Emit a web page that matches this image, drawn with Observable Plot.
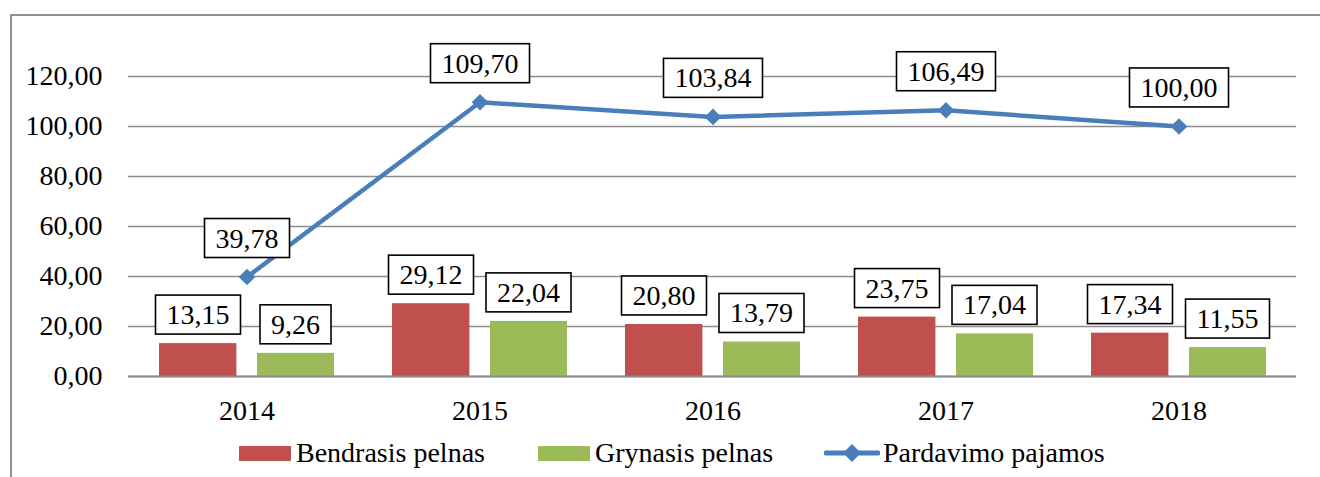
<!DOCTYPE html>
<html><head><meta charset="utf-8">
<script src="https://cdn.jsdelivr.net/npm/d3@7"></script>
<script src="https://cdn.jsdelivr.net/npm/@observablehq/plot@0.6"></script>
<style>
body{margin:0;background:#fff;overflow:hidden;width:1320px;height:477px;position:relative;font-family:"Liberation Serif","Tinos","Times New Roman","DejaVu Serif",serif;}
#frame{position:absolute;left:10px;top:14px;width:1400px;height:600px;border:2px solid #8e8e8e;box-sizing:border-box;}
#chart{position:absolute;left:0;top:0;}
.item{position:absolute;top:437px;height:32px;display:flex;align-items:center;font-size:28px;color:#000;white-space:nowrap;}
.sw{width:52px;height:15px;margin-right:5px;}
</style></head><body>
<div id="frame"></div>
<div id="chart"></div>
<div id="legend"></div>
<script>
const years = ["2014", "2015", "2016", "2017", "2018"];
const bendrasis = [13.15, 29.12, 20.80, 23.75, 17.34];
const grynasis = [9.26, 22.04, 13.79, 17.04, 11.55];
const pardavimo = [39.78, 109.70, 103.84, 106.49, 100.00];
const yTicks = [0, 20, 40, 60, 80, 100, 120];
const seriesNames = ["Bendrasis pelnas", "Grynasis pelnas", "Pardavimo pajamos"];
const colors = ["#C0504D", "#9BBB59", "#4A7EBB"];

const fmt = v => v.toFixed(2).replace(".", ",");
const rows = years.map((y, i) => ({year: y, b: bendrasis[i], g: grynasis[i], p: pardavimo[i]}));
const font = '"Liberation Serif","Tinos","Times New Roman","DejaVu Serif",serif';

const plot = Plot.plot({
  width: 1320, height: 430,
  marginLeft: 128, marginRight: 24, marginTop: 76, marginBottom: 54,
  style: {fontFamily: font, fontSize: "28px", color: "#000", background: "transparent", overflow: "visible"},
  x: {type: "band", domain: years, padding: 0},
  y: {domain: [0, 120]},
  marks: [
    Plot.gridY(yTicks, {stroke: "#8c8c8c", strokeOpacity: 1, strokeWidth: 1.6}),
    Plot.axisY(yTicks, {tickSize: 0, tickPadding: 26, tickFormat: fmt, label: null, fontSize: 28, fontFamily: font}),
    Plot.axisX({tickSize: 0, tickPadding: 24, label: null, fontSize: 28, fontFamily: font}),
    Plot.barY(rows, {x: "year", y: "b", fill: colors[0], insetLeft: 29, insetRight: 126.6}),
    Plot.barY(rows, {x: "year", y: "g", fill: colors[1], insetLeft: 127, insetRight: 29}),
    Plot.ruleY([0], {stroke: "#8c8c8c", strokeWidth: 2}),
    Plot.line(rows, {x: "year", y: "p", stroke: colors[2], strokeWidth: 4.5}),
    Plot.dot(rows, {x: "year", y: "p", symbol: "diamond2", r: 7.5, fill: colors[2], stroke: "none"}),
    Plot.text(rows, {x: "year", y: "b", text: d => fmt(d.b), dx: -49, dy: -28.5, fontSize: 28, fontFamily: font, fill: "#000"}),
    Plot.text(rows, {x: "year", y: "g", text: d => fmt(d.g), dx: 48.5, dy: -28.5, fontSize: 28, fontFamily: font, fill: "#000"}),
    Plot.text(rows, {x: "year", y: "p", text: d => fmt(d.p), dy: -38.5, fontSize: 28, fontFamily: font, fill: "#000"})
  ]
});
document.getElementById("chart").appendChild(plot);

// white boxes with black borders behind the data labels (text marks only)
plot.querySelectorAll('g[aria-label="text"] text').forEach(t => {
  const bb = t.getBBox();
  const r = document.createElementNS("http://www.w3.org/2000/svg", "rect");
  const px = 11, py = 4;
  r.setAttribute("x", bb.x - px);
  r.setAttribute("y", bb.y - py);
  r.setAttribute("width", bb.width + 2 * px);
  r.setAttribute("height", bb.height + 2 * py);
  r.setAttribute("fill", "#fff");
  r.setAttribute("stroke", "#000");
  r.setAttribute("stroke-width", "1.6");
  const tr = t.getAttribute("transform");
  if (tr) r.setAttribute("transform", tr);
  t.parentNode.insertBefore(r, t);
});

// legend
const legend = document.getElementById("legend");
const lefts = [239, 538, 824];
seriesNames.forEach((name, i) => {
  const item = document.createElement("div");
  item.className = "item";
  item.style.left = lefts[i] + "px";
  if (i < 2) {
    const sw = document.createElement("div");
    sw.className = "sw";
    sw.style.background = colors[i];
    item.appendChild(sw);
  } else {
    const ns = "http://www.w3.org/2000/svg";
    const svg = document.createElementNS(ns, "svg");
    svg.setAttribute("width", 56); svg.setAttribute("height", 22);
    svg.style.marginRight = "3px";
    const ln = document.createElementNS(ns, "line");
    ln.setAttribute("x1", 2); ln.setAttribute("x2", 54); ln.setAttribute("y1", 11); ln.setAttribute("y2", 11);
    ln.setAttribute("stroke", colors[2]); ln.setAttribute("stroke-width", 5); ln.setAttribute("stroke-linecap", "round");
    const dm = document.createElementNS(ns, "path");
    dm.setAttribute("d", "M28,2 L37,11 L28,20 L19,11 Z");
    dm.setAttribute("fill", colors[2]);
    svg.appendChild(ln); svg.appendChild(dm);
    item.appendChild(svg);
  }
  const tx = document.createElement("span");
  tx.textContent = name;
  item.appendChild(tx);
  legend.appendChild(item);
});
</script>
</body></html>
